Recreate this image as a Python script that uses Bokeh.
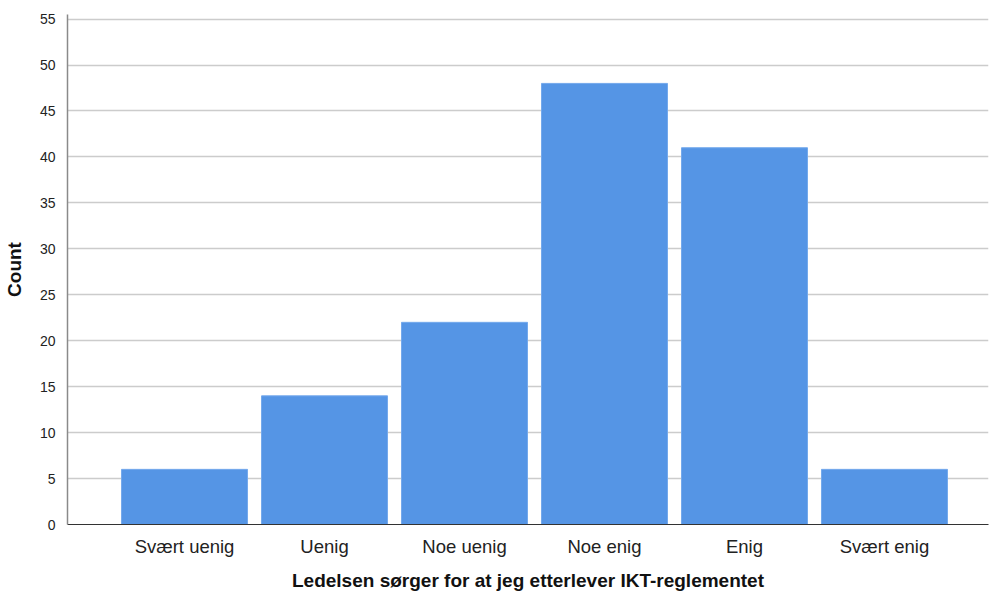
from bokeh.plotting import figure
from bokeh.models import ColumnDataSource, FixedTicker, Range1d
from bokeh.embed import file_html
from bokeh.resources import INLINE

categories = ["Svært uenig", "Uenig", "Noe uenig", "Noe enig", "Enig", "Svært enig"]
counts = [6, 14, 22, 48, 41, 6]
positions = [1, 2, 3, 4, 5, 6]
y_ticks = [0, 5, 10, 15, 20, 25, 30, 35, 40, 45, 50, 55]

source = ColumnDataSource(data=dict(x=positions, count=counts, label=categories))

p = figure(
    width=991, height=593,
    x_range=Range1d(0.164, 6.743), y_range=Range1d(0, 55.5),
    output_backend="svg", toolbar_location=None,
    min_border_left=67, min_border_right=3, min_border_top=14, min_border_bottom=69,
)
p.outline_line_color = None
p.background_fill_color = "white"

p.vbar(x="x", top="count", width=0.9, source=source,
       fill_color="#5595e5", line_color="#74a9ec", line_width=1)

# y axis
p.yaxis.ticker = FixedTicker(ticks=y_ticks)
p.yaxis.axis_label = "Count"
p.yaxis.axis_label_text_font = "Liberation Sans"
p.yaxis.axis_label_text_font_style = "bold"
p.yaxis.axis_label_text_font_size = "19px"
p.yaxis.axis_label_text_color = "#111111"
p.yaxis.axis_label_standoff = 12
p.yaxis.major_label_text_font = "Liberation Sans"
p.yaxis.major_label_text_font_size = "14px"
p.yaxis.major_label_text_color = "#222222"
p.yaxis.major_label_standoff = 6
p.yaxis.major_tick_line_color = None
p.yaxis.minor_tick_line_color = None
p.yaxis.axis_line_color = "#8a8a8a"
p.yaxis.axis_line_width = 1.5

# x axis
p.xaxis.ticker = FixedTicker(ticks=positions)
p.xaxis.major_label_overrides = {pos: lab for pos, lab in zip(positions, categories)}
p.xaxis.axis_label = "Ledelsen sørger for at jeg etterlever IKT-reglementet"
p.xaxis.axis_label_text_font = "Liberation Sans"
p.xaxis.axis_label_text_font_style = "bold"
p.xaxis.axis_label_text_font_size = "19px"
p.xaxis.axis_label_text_color = "#111111"
p.xaxis.axis_label_standoff = 10
p.xaxis.major_label_text_font = "Liberation Sans"
p.xaxis.major_label_text_font_size = "18.5px"
p.xaxis.major_label_text_color = "#222222"
p.xaxis.major_label_standoff = 5
p.xaxis.major_tick_line_color = None
p.xaxis.minor_tick_line_color = None
p.xaxis.axis_line_color = "#333333"
p.xaxis.axis_line_width = 1.2

p.xgrid.grid_line_color = None
p.ygrid.ticker = FixedTicker(ticks=y_ticks[1:])
p.ygrid.grid_line_color = "#cccccc"
p.ygrid.grid_line_width = 1.5
p.ygrid.level = "underlay"

open("out.html", "w").write(file_html(p, INLINE))
